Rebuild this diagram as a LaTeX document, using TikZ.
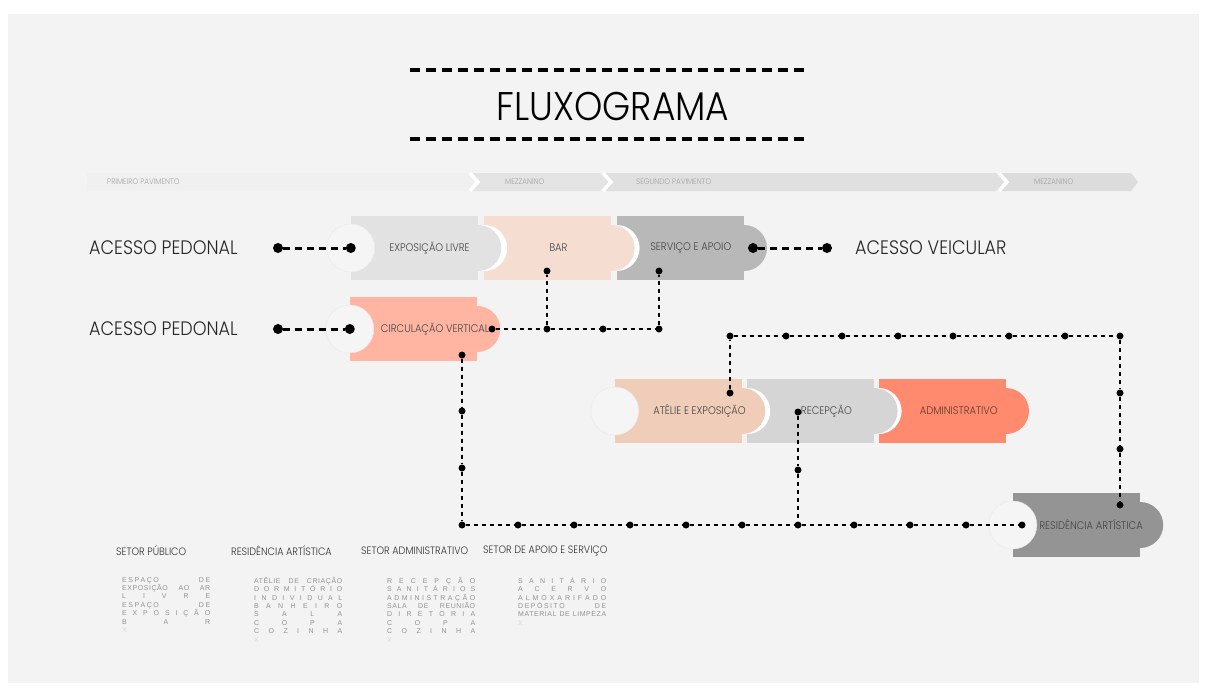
\documentclass[tikz,border=0pt]{standalone}
\usepackage{fontspec}
\setmainfont{Poppins}[UprightFont={* Light}, FakeStretch=0.9]
\newfontfamily\listfont{Liberation Sans}[LetterSpace=8]
\usepackage{xcolor}
\usetikzlibrary{positioning}
\definecolor{PageGray}{HTML}{F3F3F3}
\definecolor{FloorA}{HTML}{F0F0F0}
\definecolor{FloorB}{HTML}{E4E4E4}
\definecolor{FloorC}{HTML}{E0E0E0}
\definecolor{FloorD}{HTML}{DCDCDC}
\definecolor{FloorText}{HTML}{A2A2A2}
\definecolor{ExpoGray}{HTML}{E2E2E2}
\definecolor{BarPeach}{HTML}{F5DDD1}
\definecolor{ServGray}{HTML}{B8B8B8}
\definecolor{CircSalmon}{HTML}{FFB5A1}
\definecolor{AtelPeach}{HTML}{EFCDB8}
\definecolor{RecGray}{HTML}{D5D5D5}
\definecolor{AdmOrange}{HTML}{FF8A6D}
\definecolor{ResGray}{HTML}{949494}
\definecolor{Socket}{HTML}{F5F5F5}
\definecolor{SocketEdge}{HTML}{EAEAEA}
\definecolor{TextGray}{HTML}{444444}
\definecolor{AdmText}{HTML}{5A3A32}
\definecolor{ListGray}{HTML}{929292}
\definecolor{ListFaint}{HTML}{DADADA}

% one justified line of the sector lists
\newcommand{\fillrow}[1]{\makebox[88pt][s]{\spaceskip=1.5pt plus 0.1fil\relax #1}}

\begin{document}
\begin{tikzpicture}[x=1pt, y=-1pt, node distance=5pt,
  every node/.style={inner sep=0pt},
  block/.style={minimum width=127pt, minimum height=64pt},
  blocktext/.style={font=\fontsize{11}{13}\selectfont, text=TextGray},
  access/.style={font=\fontsize{19.5}{21}\selectfont, text=black!85, anchor=west},
  sector/.style={font=\fontsize{10.7}{12}\selectfont, text=black!80, anchor=west},
  floortext/.style={font=\fontsize{8}{9}\selectfont, text=FloorText, anchor=west},
  items/.style={font=\listfont\fontsize{7}{8.4}\selectfont, text=ListGray, align=left, anchor=north west},
  bigdot/.style={circle, fill=black, minimum size=10pt},
  dot/.style={circle, fill=black, minimum size=7pt},
  walk/.style={line width=3pt, dash pattern=on 7pt off 5pt},
  flow/.style={line width=2.2pt, dash pattern=on 4.5pt off 3.5pt},
  rule/.style={line width=4pt, dash pattern=on 10pt off 6pt},
  chevron/.style={draw=white, line width=3.5pt}]

% page
\fill[white] (0,0) rectangle (1207,688);
\fill[PageGray] (8,14) rectangle (1199,683);
\useasboundingbox (0,0) rectangle (1207,688);

% title
\node[font=\fontsize{40}{42}\selectfont] (title) at (613,106) {FLUXOGRAMA};
\draw[rule] (410,70) -- (810,70);
\draw[rule] (410,139) -- (810,139);

% floors
\fill[FloorA] (87,173) -- (467,173) -- (476,182) -- (467,191) -- (87,191) -- cycle;
\fill[FloorB] (469,173) -- (600,173) -- (609,182) -- (600,191) -- (469,191) -- (478,182) -- cycle;
\fill[FloorC] (602,173) -- (996,173) -- (1005,182) -- (996,191) -- (602,191) -- (611,182) -- cycle;
\fill[FloorD] (998,173) -- (1131,173) -- (1138,182) -- (1131,191) -- (998,191) -- (1007,182) -- cycle;
\draw[chevron] (470,173) -- (478,182) -- (470,191);
\draw[chevron] (603,173) -- (611,182) -- (603,191);
\draw[chevron] (999,173) -- (1007,182) -- (999,191);
\node[floortext] (piso1) at (107,182) {PRIMEIRO PAVIMENTO};
\node[floortext] (mez1) at (505,182) {MEZZANINO};
\node[floortext] (piso2) at (636,182) {SEGUNDO PAVIMENTO};
\node[floortext] (mez2) at (1034,182) {MEZZANINO};

% blocks
\node[block, fill=ExpoGray] (expo) at (414.5,248) {};
\node[block, fill=BarPeach, right=6pt of expo] (bar) {};
\node[block, fill=ServGray, right=5pt of bar] (serv) {};
\node[block, fill=CircSalmon] (circ) at (413.5,329) {};
\node[block, fill=AtelPeach] (atel) at (678.5,411) {};
\node[block, fill=RecGray, right=5pt of atel] (rec) {};
\node[block, fill=AdmOrange, right=4pt of rec] (adm) {};
\node[block, fill=ResGray] (res) at (1076.5,525) {};

% open sockets
\filldraw[fill=Socket, draw=SocketEdge, line width=0.4pt] (expo.west) circle (24);
\filldraw[fill=Socket, draw=SocketEdge, line width=0.4pt] (circ.west) circle (24);
\filldraw[fill=Socket, draw=SocketEdge, line width=0.4pt] (atel.west) circle (24);
\filldraw[fill=Socket, draw=SocketEdge, line width=0.4pt] (res.west) circle (24);
% sockets under the tabs
\fill[white] (bar.west) circle (23);
\fill[white] (serv.west) circle (23);
\fill[white] (rec.west) circle (23);
\fill[white] (adm.west) circle (23);
% tabs
\fill[ExpoGray] (expo.east) circle (23);
\fill[BarPeach] (bar.east) circle (23);
\fill[ServGray] (serv.east) circle (23);
\fill[CircSalmon] (circ.east) circle (23);
\fill[AtelPeach] (atel.east) circle (23);
\fill[RecGray] (rec.east) circle (23);
\fill[AdmOrange] (adm.east) circle (23);
\fill[ResGray] (res.east) circle (23);

\node[blocktext] (expo-t) at ([xshift=15pt]expo.center) {EXPOSIÇÃO LIVRE};
\node[blocktext] (bar-t) at ([xshift=10.5pt]bar.center) {BAR};
\node[blocktext] (serv-t) at ([xshift=10.5pt]serv.center) {SERVIÇO E APOIO};
\node[blocktext] (circ-t) at ([xshift=21.5pt]circ.center) {CIRCULAÇÃO VERTICAL};
\node[blocktext] (atel-t) at ([xshift=21pt]atel.center) {ATÊLIE E EXPOSIÇÃO};
\node[blocktext] (rec-t) at ([xshift=15.5pt]rec.center) {RECEPÇÃO};
\node[blocktext, text=AdmText] (adm-t) at ([xshift=16.5pt]adm.center) {ADMINISTRATIVO};
\node[blocktext] (res-t) at ([xshift=14.5pt]res.center) {RESIDÊNCIA ARTÍSTICA};

% accesses
\node[access] (ped1) at (89,248) {ACESSO PEDONAL};
\node[access] (ped2) at (89,329) {ACESSO PEDONAL};
\node[access] (veic) at (855,248) {ACESSO VEICULAR};
\node[bigdot] (p1a) at (278,248) {};
\node[bigdot] (p1b) at (expo.west) {};
\node[bigdot] (p2a) at (278,329) {};
\node[bigdot] (p2b) at (circ.west) {};
\node[bigdot] (v1a) at (753,248) {};
\node[bigdot] (v1b) at (827,248) {};

\draw[walk] (p1a) -- (p1b);
\draw[walk] (p2a) -- (p2b);
\draw[walk] (v1a) -- (v1b);

% flow points
\node[dot] (c1) at (492,329) {};
\node[dot] (j1) at (547,329) {};
\node[dot] (j2) at (603,329) {};
\node[dot] (j3) at (659,329) {};
\node[dot] (b1) at (547,271) {};
\node[dot] (s1) at (659,271) {};
\node[dot] (c2) at (462,355) {};
\node[dot] (l1) at (462,411) {};
\node[dot] (l2) at (462,468) {};
\node[dot] (q0) at (462,525) {};
\node[dot] (q1) at (518,525) {};
\node[dot] (q2) at (574,525) {};
\node[dot] (q3) at (630,525) {};
\node[dot] (q4) at (686,525) {};
\node[dot] (q5) at (742,525) {};
\node[dot] (q6) at (798,525) {};
\node[dot] (q7) at (854,525) {};
\node[dot] (q8) at (910,525) {};
\node[dot] (q9) at (966,525) {};
\node[dot] (e1) at (1022,525) {};
\node[dot] (r1) at (798,412) {};
\node[dot] (r2) at (798,470) {};
\node[dot] (a1) at (730,393) {};
\node[dot] (t1) at (730,336) {};
\node[dot] (t2) at (786,336) {};
\node[dot] (t3) at (842,336) {};
\node[dot] (t4) at (898,336) {};
\node[dot] (t5) at (953,336) {};
\node[dot] (t6) at (1009,336) {};
\node[dot] (t7) at (1065,336) {};
\node[dot] (t8) at (1120,336) {};
\node[dot] (u1) at (1120,393) {};
\node[dot] (u2) at (1120,449) {};
\node[dot] (u3) at (1120,505) {};

\draw[flow] (c1) -- (j1) -- (j2) -- (j3);
\draw[flow] (j1) -- (b1);
\draw[flow] (j3) -- (s1);
\draw[flow] (c2) -- (l1) -- (l2) -- (q0) -- (q1) -- (q2) -- (q3) -- (q4) -- (q5) -- (q6) -- (q7) -- (q8) -- (q9) -- (e1);
\draw[flow] (r1) -- (r2) -- (q6);
\draw[flow] (a1) -- (t1) -- (t2) -- (t3) -- (t4) -- (t5) -- (t6) -- (t7) -- (t8) -- (u1) -- (u2) -- (u3);

% sectors
\node[sector] (pub) at (116,551) {SETOR PÚBLICO};
\node[sector] (resid) at (231,551) {RESIDÊNCIA ARTÍSTICA};
\node[sector] (admin) at (361,551) {SETOR ADMINISTRATIVO};
\node[sector] (apoio) at (483,551) {SETOR DE APOIO E SERVIÇO};

\node[items] (pub-l) at (122,577) {\fillrow{E S P A Ç O\hfill D E}\\
  \fillrow{EXPOSIÇÃO AO AR}\\
  \fillrow{L I V R E}\\
  \fillrow{E S P A Ç O\hfill D E}\\
  \fillrow{E X P O S I Ç Ã O}\\
  \fillrow{B A R}\\
  {\color{ListFaint}X}};
\node[items] (resid-l) at (254,577) {\fillrow{ATÊLIE DE CRIAÇÃO}\\
  \fillrow{D O R M I T Ó R I O}\\
  \fillrow{I N D I V I D U A L}\\
  \fillrow{B A N H E I R O}\\
  \fillrow{S A L A}\\
  \fillrow{C O P A}\\
  \fillrow{C O Z I N H A}\\
  {\color{ListFaint}X}};
\node[items] (admin-l) at (387,577) {\fillrow{R E C E P Ç Ã O}\\
  \fillrow{S A N I T Á R I O S}\\
  \fillrow{A D M I N I S T R A Ç Ã O}\\
  \fillrow{SALA DE REUNIÃO}\\
  \fillrow{D I R E T O R I A}\\
  \fillrow{C O P A}\\
  \fillrow{C O Z I N H A}\\
  {\color{ListFaint}X}};
\node[items] (apoio-l) at (518,577) {\fillrow{S A N I T Á R I O}\\
  \fillrow{A C E R V O}\\
  \fillrow{A L M O X A R I F A D O}\\
  \fillrow{D E P Ó S I T O\hfill D E}\\
  \fillrow{MATERIAL DE LIMPEZA}\\
  {\color{ListFaint}X}};
\end{tikzpicture}
\end{document}
